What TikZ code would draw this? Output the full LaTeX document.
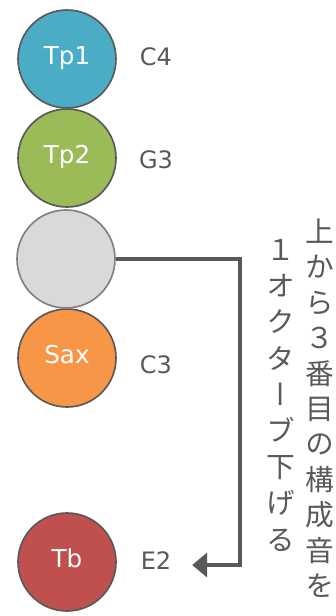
\documentclass[tikz,border=0pt]{standalone}
\usepackage{fontspec}
\setmainfont{Noto Sans CJK JP}
\newfontfamily\latn{DejaVu Sans}
\newfontfamily\vjp[RawFeature=+vert]{Noto Sans CJK JP}
\usetikzlibrary{arrows.meta}

\definecolor{tpblue}{HTML}{4BACC6}
\definecolor{tpgreen}{HTML}{9BBB59}
\definecolor{midgray}{HTML}{D9D9D9}
\definecolor{saxorange}{HTML}{F79646}
\definecolor{tbred}{HTML}{C0504D}
\definecolor{rimgray}{HTML}{595959}
\definecolor{textgray}{HTML}{595959}

\tikzset{voice/.style={draw=rimgray,circle,line width=1.4pt,minimum size=2.94cm,inner sep=0pt,
		text=white,text height=0.86em,text depth=0pt,font=\latn\fontsize{21}{21}\selectfont}
}
\tikzset{pitch/.style={text=textgray,inner sep=0pt,text height=0.73em,text depth=0pt,
		font=\latn\fontsize{20.5}{20.5}\selectfont}
}
\tikzset{vchar/.style={text=textgray,inner sep=0pt,text height=0.88em,text depth=0.12em,
		font=\vjp\fontsize{24.5}{24.5}\selectfont}
}
\tikzstyle{octave}=[draw=rimgray,line width=3.4pt,-{Triangle[length=0.45cm,width=0.72cm]},shorten >=0.62cm]

\begin{document}
\begin{tikzpicture}[x=0.03cm,y=-0.03cm]
	\useasboundingbox (0,0) rectangle (335,616);
	\begin{scope}
		\foreach \nm/\col/\yy/\txt in {tpa/tpblue/59/Tp1, tpb/tpgreen/158/Tp2, sax/saxorange/358/Sax, tb/tbred/562/Tb}{
			\node (\nm)[voice,fill=\col] at (67,\yy) {\txt};
		}
		\node (mid)[voice,fill=midgray,draw=black!50] at (66,259) {};
		
		\node (c4)[pitch] at (156,61) {C4};
		\node (g3)[pitch] at (156,164) {G3};
		\node (c3)[pitch] at (156,369) {C3};
		\node (e2)[pitch] at (156,565) {E2};
		
		\coordinate (bend) at (240,0);
		\draw[octave] (mid.east) -| (e2.east -| bend) -- (e2.east);
		
		\foreach \ch [count=\i] in {上,か,ら,３,番,目,の,構,成,音,を}{
			\node (ra\i)[vchar] at (320,{238+(\i-1)*35.4}) {\ch};
		}
		\foreach \ch [count=\i] in {１,オ,ク,タ,ー,ブ,下,げ,る}{
			\node (rb\i)[vchar] at (281,{256+(\i-1)*36.2}) {\ch};
		}
	\end{scope}
\end{tikzpicture}
\end{document}
